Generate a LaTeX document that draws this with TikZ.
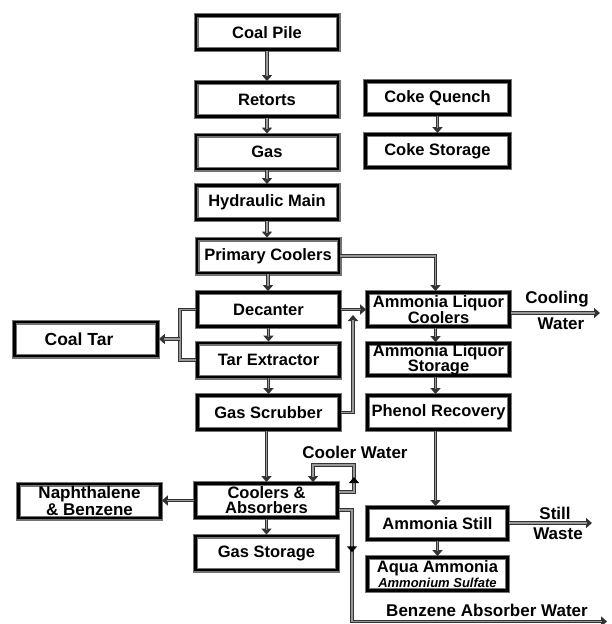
\documentclass[tikz,border=0pt]{standalone}
\usepackage{fontspec}
\setmainfont{Liberation Sans}
\usetikzlibrary{arrows.meta,calc,decorations.markings}
\begin{document}
\begin{tikzpicture}[x=1pt,y=-1pt,
  box/.style={draw=black, line width=2.8pt, preaction={draw=black!55, line width=5pt},
    minimum width=142pt, minimum height=34pt, inner sep=0pt, align=center,
    font=\bfseries\fontsize{16.5}{15}\selectfont},
  lbl/.style={inner sep=0pt, font=\bfseries\fontsize{17}{17}\selectfont},
  conn/.style={draw=black!80, line width=3.6pt, postaction={draw=black!40, line width=1.3pt}},
  arr/.style={draw=black!80, line width=3.6pt, -{Triangle[length=6pt,width=10pt]},
    postaction={draw=black!40, line width=1.3pt, -, shorten >=5pt}},
  midarrow/.style={postaction={decorate, decoration={markings,
    mark=at position #1 with {\arrow[black]{Triangle[length=6pt,width=10pt]}}}}}
]
\useasboundingbox[fill=white] (0,0) rectangle (611,624);

% main column
\node[box] (coalpile) at (267,32.5) {Coal Pile};
\node[box] (retorts) at (267,99.5) {Retorts};
\node[box] (gas) at (267,152) {Gas};
\node[box] (hydraulic) at (267,202.5) {Hydraulic Main};
\node[box] (primary) at (268,256) {Primary Coolers};
\node[box] (decanter) at (268.5,309.5) {Decanter};
\node[box] (tarext) at (268.5,360) {Tar Extractor};
\node[box] (gasscrub) at (268.5,412.5) {Gas Scrubber};
\node[box] (coolabs) at (266.5,500.5) {Coolers \&\\Absorbers};
\node[box] (gasstor) at (266.5,553) {Gas Storage};

% left column
\node[box, minimum width=143pt, font=\bfseries\fontsize{17.5}{15}\selectfont] (coaltar) at (86,339) {Coal Tar\hspace*{14pt}};
\node[box, font=\bfseries\fontsize{17}{15}\selectfont] (naph) at (89.5,501) {Naphthalene\\\&~Benzene};

% right column
\node[box, minimum width=144pt, minimum height=33pt] (cokeq) at (437.5,98) {Coke Quench};
\node[box, minimum width=144pt, minimum height=33pt] (cokes) at (437.5,151) {Coke Storage};
\node[box] (alc) at (438.5,309.5) {Ammonia Liquor\\Coolers};
\node[box, minimum height=32pt] (als) at (438.5,359.5) {Ammonia Liquor\\Storage};
\node[box] (phenol) at (438.5,412.5) {Phenol Recovery};
\node[box, minimum width=140pt, minimum height=32pt] (astill) at (437.5,523.5) {Ammonia Still};
\node[box, minimum width=140pt, minimum height=33pt] (aqua) at (437.5,574) {Aqua Ammonia\\{\itshape\fontsize{13}{13}\selectfont Ammonium Sulfate}};

% labels
\node[lbl] (tcool) at (557,299) {Cooling};
\node[lbl] (twater) at (561,324) {Water};
\node[lbl] (tstill) at (555,513) {Still};
\node[lbl] (twaste) at (558,534) {Waste};
\node[lbl] (tcw) at (355,452) {Cooler Water};
\node[lbl] (tbaw) at (487,610) {Benzene Absorber Water};

% coordinates
\coordinate (jt) at (180,339);
\coordinate (gsup) at (353,315);
\coordinate (cwend) at (600,313);
\coordinate (swend) at (592,523);
\coordinate (cwa) at ($(coolabs.east)+(0,-8.5)$);
\coordinate (l1) at (354,492);
\coordinate (l2) at (354,465);
\coordinate (l3) at (313,465);
\coordinate (bwa) at ($(coolabs.east)+(0,9.5)$);
\coordinate (b1) at (352,510);
\coordinate (b2) at (352,621.5);
\coordinate (bend) at (607,621.5);

% vertical flow main column
\draw[arr] (coalpile.south) -- (coalpile.south |- retorts.north);
\draw[arr] (retorts.south) -- (retorts.south |- gas.north);
\draw[arr] (gas.south) -- (gas.south |- hydraulic.north);
\draw[arr] (hydraulic.south) -- (hydraulic.south |- primary.north);
\draw[arr] (primary.south) -- (primary.south |- decanter.north);
\draw[arr] (decanter.south) -- (decanter.south |- tarext.north);
\draw[arr] (tarext.south) -- (tarext.south |- gasscrub.north);
\draw[arr] ([xshift=-2pt]gasscrub.south) -- ([xshift=-2pt]gasscrub.south |- coolabs.north);
\draw[arr] (coolabs.south) -- (coolabs.south |- gasstor.north);

% right column
\draw[arr] (cokeq.south) -- (cokeq.south |- cokes.north);
\draw[arr] ([xshift=-3pt]alc.south) -- ([xshift=-3pt]alc.south |- als.north);
\draw[arr] ([xshift=-3pt]als.south) -- ([xshift=-3pt]als.south |- phenol.north);
\draw[arr] ([xshift=-3pt]phenol.south) -- ([xshift=-3pt]phenol.south |- astill.north);
\draw[arr] (astill.south) -- (astill.south |- aqua.north);

% coal tar
\draw[conn] (decanter.west) -| (jt) |- (tarext.west);
\draw[arr] (jt) -- (coaltar.east);

% to ammonia liquor coolers
\draw[arr] (primary.east) -| ([xshift=-3pt]alc.north);
\draw[arr] (decanter.east) -- (alc.west);
\draw[arr] (gasscrub.east) -| (gsup);

% outputs
\draw[arr] (alc.east |- cwend) -- (cwend);
\draw[arr] (astill.east |- swend) -- (swend);
\draw[arr] (coolabs.west) -- (coolabs.west -| naph.east);

% cooler water loop
\draw[arr, midarrow=0.3] (cwa) -- (l1) -- (l2) -- (l3) -- (l3 |- coolabs.north);

% benzene absorber water
\draw[arr, midarrow=0.146] (bwa) -- (b1) -- (b2) -- (bend);
\end{tikzpicture}
\end{document}
